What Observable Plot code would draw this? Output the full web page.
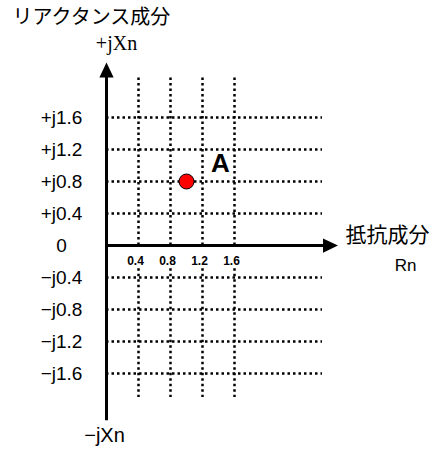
<!DOCTYPE html>
<html>
<head>
<meta charset="utf-8">
<script src="https://cdn.jsdelivr.net/npm/d3@7"></script>
<script src="https://cdn.jsdelivr.net/npm/@observablehq/plot@0.6"></script>
<style>
  html, body { margin: 0; padding: 0; background: #fff; }
  #chart svg { display: block; }
</style>
</head>
<body>
<div id="chart"></div>
<script>
// ---- data ----
const titleText = ["リアクタンス成分"];
const rTicks = [0.4, 0.8, 1.2, 1.6];
const rTickLabels = ["0.4", "0.8", "1.2", "1.6"];
const xTicks = [1.6, 1.2, 0.8, 0.4, 0, -0.4, -0.8, -1.2, -1.6];
const xTickLabels = ["+j1.6", "+j1.2", "+j0.8", "+j0.4", "0", "\u2212j0.4", "\u2212j0.8", "\u2212j1.2", "\u2212j1.6"];
const posXLabel = ["+jXn"];
const negXLabel = ["\u2212jXn"];
const rAxisLabel = ["抵抗成分"];
const rAxisUnit = ["Rn"];
const pointR = [1.0];
const pointX = [0.8];
const pointName = ["A"];

const points = pointR.map((r, i) => ({ r, x: pointX[i], name: pointName[i] }));
const gridX = xTicks.filter(d => d !== 0);

const sans = "'Liberation Sans', Arial, 'Noto Sans CJK JP', sans-serif";
const jp = "'Noto Sans CJK JP', sans-serif";

// filled arrowhead symbol (tip up)
const arrowHead = {
  draw(ctx, size) {
    const r = Math.sqrt(size / Math.PI);
    ctx.moveTo(0, -r);
    ctx.lineTo(r * 0.95, r);
    ctx.lineTo(-r * 0.95, r);
    ctx.closePath();
  }
};

const W = 442, H = 450;
const x0px = 106, y0px = 245, unit = 80;

const chart = Plot.plot({
  width: W,
  height: H,
  margin: 0,
  x: { domain: [-x0px / unit, (W - x0px) / unit], range: [0, W], axis: null },
  y: { domain: [-(H - y0px) / unit, y0px / unit], range: [H, 0], axis: null },
  style: { fontFamily: sans, background: "#fff" },
  marks: [
    // dotted grid
    Plot.ruleY(gridX, { y: d => d, x1: 0, x2: 2.7, stroke: "black", strokeWidth: 2.5, strokeDasharray: "2.5,3" }),
    Plot.ruleX(rTicks, { x: d => d, y1: 0, y2: 2.1, stroke: "black", strokeWidth: 2.5, strokeDasharray: "2.5,3" }),
    Plot.ruleX(rTicks, { x: d => d, y1: -0.29, y2: -1.9, stroke: "black", strokeWidth: 2.5, strokeDasharray: "2.5,3" }),
    // axes
    Plot.ruleX([0], { y1: -2.19, y2: 2.12, stroke: "black", strokeWidth: 3 }),
    Plot.ruleY([0], { x1: 0, x2: 2.72, stroke: "black", strokeWidth: 3 }),
    Plot.dot([0], { x: 0, y: 2.195, symbol: arrowHead, r: 7.5, fill: "black", stroke: "none" }),
    Plot.dot([0], { x: 2.8, y: 0, symbol: arrowHead, r: 7.5, fill: "black", stroke: "none", rotate: 90 }),
    // point A
    Plot.dot(points, { x: "r", y: "x", r: 7.5, fill: "#ff0000", stroke: "#000", strokeWidth: 1 }),
    Plot.text(points, { x: "r", y: "x", text: "name", dx: 34, dy: -18, fontSize: 26, fontWeight: "bold", fontFamily: sans }),
    // tick labels
    Plot.text(xTicks, { x: 0, y: d => d, text: (d, i) => xTickLabels[i], dx: -45, textAnchor: "middle", fontSize: 19, fontFamily: sans }),
    Plot.text(rTicks, { x: d => d, y: 0, text: (d, i) => rTickLabels[i], dx: -3, dy: 16, textAnchor: "middle", fontSize: 12, fontWeight: "bold", fontFamily: sans }),
    // axis labels
    Plot.text(posXLabel, { x: 0, y: 2.195, text: d => d, dx: 10, dy: -26, fontSize: 20, fontFamily: "'Liberation Serif', 'Times New Roman', serif" }),
    Plot.text(negXLabel, { x: 0, y: -2.19, text: d => d, dx: -2, dy: 15, fontSize: 20, fontFamily: sans }),
    Plot.text(rAxisLabel, { x: 2.8, y: 0, text: d => d, dx: 15, dy: -10, textAnchor: "start", fontSize: 21, fontFamily: jp }),
    Plot.text(rAxisUnit, { x: 2.8, y: 0, text: d => d, dx: 75, dy: 20, textAnchor: "middle", fontSize: 17, fontFamily: sans }),
    // title
    Plot.text(titleText, { frameAnchor: "top-left", text: d => d, dx: 12, dy: 9, textAnchor: "start", lineAnchor: "top", fontSize: 20, fontFamily: jp })
  ]
});

document.getElementById("chart").append(chart);
</script>
</body>
</html>
